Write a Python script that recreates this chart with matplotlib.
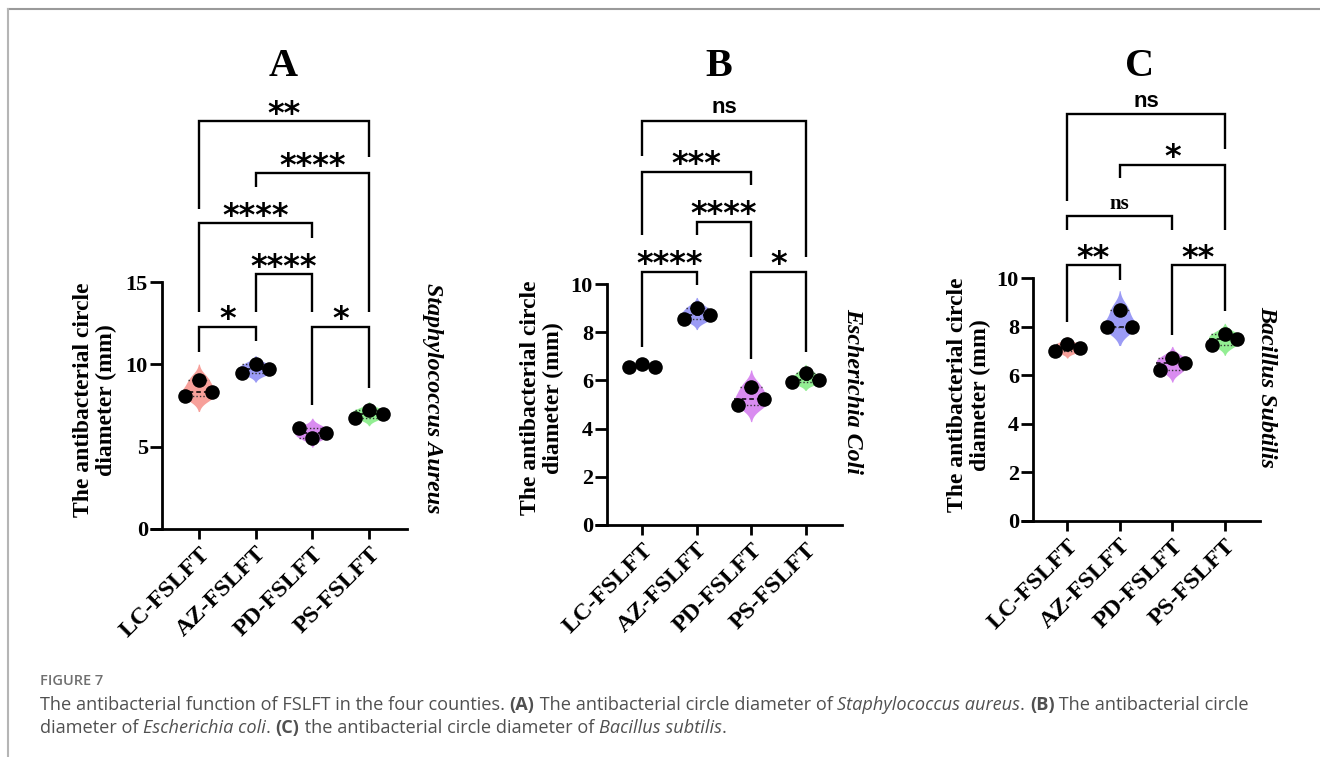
import numpy as np
import matplotlib
matplotlib.use("Agg")
import matplotlib.pyplot as plt
from matplotlib.lines import Line2D

W, H, DPI = 1320, 757, 100

# ---------------- data ----------------
groups = ["LC-FSLFT", "AZ-FSLFT", "PD-FSLFT", "PS-FSLFT"]
group_colors = ["#F7A09A", "#9B9BF5", "#D98CF0", "#93EE93"]

# Panel A: Staphylococcus aureus (mm)
a_lc = [8.1, 9.05, 8.3]
a_az = [9.45, 10.0, 9.7]
a_pd = [6.15, 5.55, 5.85]
a_ps = [6.75, 7.25, 7.0]
# Panel B: Escherichia coli (mm)
b_lc = [6.57, 6.67, 6.57]
b_az = [8.55, 9.0, 8.7]
b_pd = [5.0, 5.72, 5.22]
b_ps = [5.95, 6.3, 6.0]
# Panel C: Bacillus subtilis (mm)
c_lc = [7.0, 7.3, 7.1]
c_az = [8.0, 8.7, 8.0]
c_pd = [6.2, 6.7, 6.5]
c_ps = [7.25, 7.7, 7.5]

# comparisons: (group i, group j, label, bracket top, left leg end, right leg end)
a_comparisons = [(0, 1, "*", 12.28, 10.76, 11.43),
                 (2, 3, "*", 12.28, 7.53, 8.54),
                 (1, 2, "****", 15.46, 13.2, 13.2),
                 (0, 2, "****", 18.56, 13.2, 17.65),
                 (1, 3, "****", 21.6, 20.77, 13.2),
                 (0, 3, "**", 24.77, 19.43, 22.59)]
b_comparisons = [(0, 1, "****", 10.51, 7.40, 9.96),
                 (2, 3, "*", 10.51, 6.88, 7.19),
                 (1, 2, "****", 12.58, 12.03, 11.1),
                 (0, 2, "***", 14.65, 12.03, 14.1),
                 (0, 3, "ns", 16.76, 15.3, 11.1)]
c_comparisons = [(0, 1, "**", 10.53, 8.17, 9.9),
                 (2, 3, "**", 10.53, 7.66, 8.66),
                 (0, 2, "ns", 12.57, 11.97, 11.97),
                 (1, 3, "*", 14.67, 14.1, 11.99),
                 (0, 3, "ns", 16.74, 13.16, 15.29)]

a_yticks = [0, 5, 10, 15]
bc_yticks = [0, 2, 4, 6, 8, 10]

ylabel_text = "The antibacterial circle\ndiameter (mm)"

# ---------------- style ----------------
SERIF = "Liberation Serif"
SANS = "Liberation Sans"
STAR = "DejaVu Sans"

panels = [
    dict(title="A", data=[a_lc, a_az, a_pd, a_ps], comps=a_comparisons,
         yticks=a_yticks, species="Staphylococcus Aureus",
         rect=(162, 282, 407, 529), ylab_x=95, ylab_y=400, title_xy=(283, 66),
         species_xy=(432, 398), serif_ns=[]),
    dict(title="B", data=[b_lc, b_az, b_pd, b_ps], comps=b_comparisons,
         yticks=bc_yticks, species="Escherichia Coli",
         rect=(607, 284, 842, 525), ylab_x=542, ylab_y=398, title_xy=(719, 66),
         species_xy=(853, 391), serif_ns=[]),
    dict(title="C", data=[c_lc, c_az, c_pd, c_ps], comps=c_comparisons,
         yticks=bc_yticks, species="Bacillus Subtilis",
         rect=(1033, 278, 1260, 521), ylab_x=969, ylab_y=395, title_xy=(1140, 66),
         species_xy=(1267, 387), serif_ns=[2]),
]

fig = plt.figure(figsize=(W / DPI, H / DPI), dpi=DPI)


def fx(x):
    return x / W


def fy(y):
    return 1 - y / H


HALF_W = 0.31
JIT = 0.24

for p in panels:
    x0, y0, x1, y1 = p["rect"]
    ax = fig.add_axes([fx(x0), fy(y1), (x1 - x0) / W, (y1 - y0) / H])
    ax.set_xlim(-0.65, 3.67)
    ax.set_ylim(0, p["yticks"][-1])
    for s in ["top", "right"]:
        ax.spines[s].set_visible(False)
    for s in ["left", "bottom"]:
        ax.spines[s].set_linewidth(2.0)
    ax.set_yticks(p["yticks"])
    ax.set_yticklabels([str(t) for t in p["yticks"]], fontfamily=SERIF,
                       fontweight="bold", fontsize=16)
    ax.set_xticks(range(len(groups)))
    ax.set_xticklabels(groups, rotation=45, ha="right", va="top",
                       rotation_mode="anchor", fontfamily=SERIF,
                       fontweight="bold", fontsize=17.5)
    ax.tick_params(axis="y", direction="out", length=8.6, width=2.0, pad=1.5)
    ax.tick_params(axis="x", direction="out", length=7.2, width=2.0, pad=3)
    # x-axis line extends left of y axis (GraphPad style)
    ax.plot([-12 / (x1 - x0), 0], [0, 0], transform=ax.transAxes,
            color="k", lw=2.0, clip_on=False, solid_capstyle="butt")

    for i, vals in enumerate(p["data"]):
        v = np.asarray(vals, dtype=float)
        n = len(v)
        bw = v.std(ddof=1) * n ** (-1 / 5)
        ys = np.linspace(v.min() - 2.4 * bw, v.max() + 2.4 * bw, 300)
        dens = np.exp(-0.5 * ((ys[:, None] - v[None, :]) / bw) ** 2).sum(1)
        half = dens / dens.max() * HALF_W
        ax.fill_betweenx(ys, i - half, i + half, color=group_colors[i],
                         lw=0, zorder=1)
        med = np.median(v)
        q1, q3 = np.percentile(v, [25, 75], method="weibull")
        hm = np.interp(med, ys, half)
        ax.plot([i - hm, i + hm], [med, med], ls=(0, (3, 2)), color="k",
                lw=1.1, zorder=2)
        for q in (q1, q3):
            hq = np.interp(q, ys, half)
            ax.plot([i - hq, i + hq], [q, q], ls=(0, (1, 1.5)), color="#333333",
                    lw=1.0, zorder=2)
        offs = (np.arange(n) - (n - 1) / 2) * JIT
        ax.scatter(i + offs, v, s=110, color="k", zorder=3, clip_on=False,
                   linewidths=0)

    for k, (gi, gj, lab, top, lb, rb) in enumerate(p["comps"]):
        ax.plot([gi, gi, gj, gj], [lb, top, top, rb], color="k", lw=1.7,
                clip_on=False, solid_joinstyle="miter", solid_capstyle="butt")
        xm = (gi + gj) / 2
        if lab == "ns":
            if k in p["serif_ns"]:
                ax.annotate(lab, xy=(xm, top), xytext=(0, 5),
                            textcoords="offset points", ha="center",
                            va="baseline", fontfamily=SERIF,
                            fontweight="bold", fontsize=15,
                            annotation_clip=False)
            else:
                ax.annotate(lab, xy=(xm, top), xytext=(0, 5.5),
                            textcoords="offset points", ha="center",
                            va="baseline", fontfamily=SANS,
                            fontweight="bold", fontsize=16,
                            annotation_clip=False)
        else:
            ax.annotate(lab, xy=(xm, top), xytext=(0, -1),
                        textcoords="offset points", ha="center",
                        va="baseline", fontfamily=STAR, fontweight="bold",
                        fontsize=23, annotation_clip=False)

    fig.text(fx(p["title_xy"][0]), fy(p["title_xy"][1]), p["title"],
             ha="center", va="center", fontfamily=SERIF, fontweight="bold",
             fontsize=29)
    fig.text(fx(p["ylab_x"]), fy(p["ylab_y"]), ylabel_text, rotation=90,
             ha="center", va="center", ma="center", fontfamily=SERIF,
             fontweight="bold", fontsize=17, linespacing=1.12)
    fig.text(fx(p["species_xy"][0]), fy(p["species_xy"][1]), p["species"],
             rotation=-90, ha="center", va="center", fontfamily=SERIF,
             fontweight="bold", fontstyle="italic", fontsize=17.3)

# ---------------- frame lines ----------------
fig.add_artist(Line2D([fx(8), 1], [fy(9), fy(9)], color="#9a9a9a", lw=1.5))
fig.add_artist(Line2D([fx(8), fx(8)], [fy(9), 0], color="#b5b5b5", lw=1.5))

# ---------------- caption ----------------
CAP = "Open Sans"
fig.text(fx(40), fy(681), "FIGURE 7", ha="left", va="center", fontfamily=CAP,
         fontsize=10.5, color="#707070", fontweight="semibold")

line1 = [("The antibacterial function of FSLFT in the four counties. ", "normal", "normal"),
         ("(A)", "bold", "normal"),
         (" The antibacterial circle diameter of ", "normal", "normal"),
         ("Staphylococcus aureus", "normal", "italic"),
         (". ", "normal", "normal"),
         ("(B)", "bold", "normal"),
         (" The antibacterial circle", "normal", "normal")]
line2 = [("diameter of ", "normal", "normal"),
         ("Escherichia coli", "normal", "italic"),
         (". ", "normal", "normal"),
         ("(C)", "bold", "normal"),
         (" the antibacterial circle diameter of ", "normal", "normal"),
         ("Bacillus subtilis", "normal", "italic"),
         (".", "normal", "normal")]

renderer = fig.canvas.get_renderer()
for runs, ypx in ((line1, 705), (line2, 728)):
    xpx = 40
    for txt, wt, st in runs:
        t = fig.text(fx(xpx), fy(ypx), txt, ha="left", va="center",
                     fontfamily=CAP, fontsize=13.1, color="#505050",
                     fontweight=wt, fontstyle=st)
        xpx += t.get_window_extent(renderer).width

fig.savefig("out.png", dpi=DPI)
